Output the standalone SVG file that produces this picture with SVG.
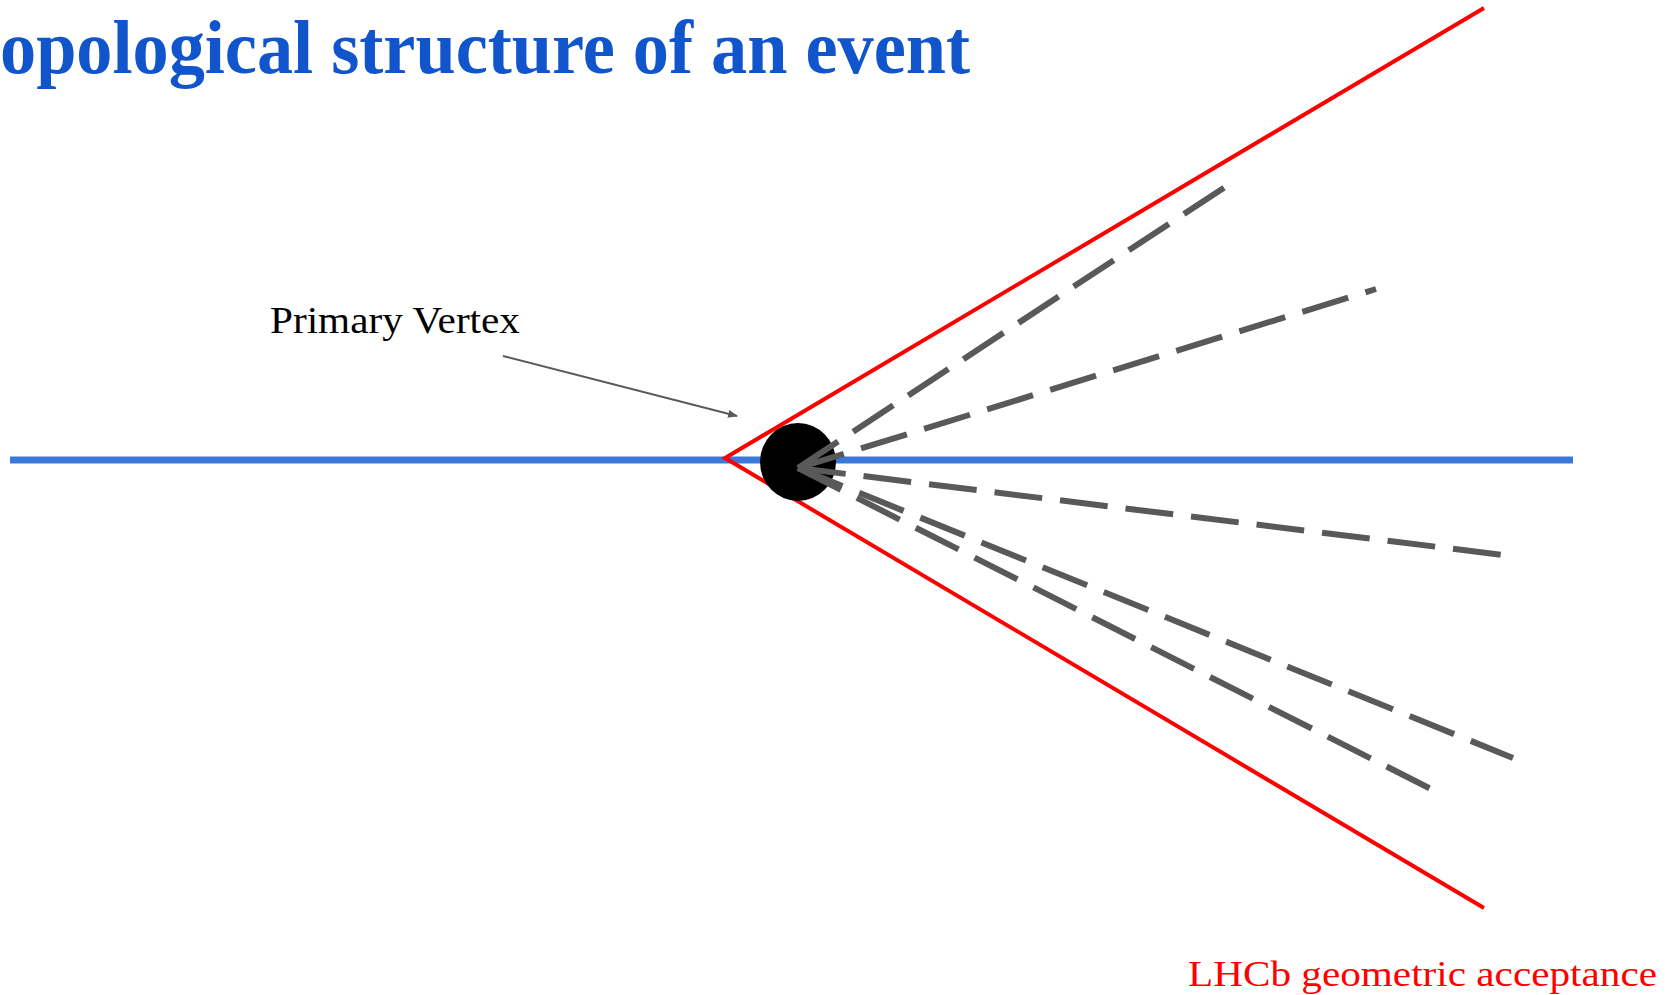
<svg xmlns="http://www.w3.org/2000/svg" width="1671" height="995" viewBox="0 0 1671 995">
<style>
.track{stroke:#595959;stroke-width:6;stroke-dasharray:48 18;fill:none}
.red{stroke:#ff0000;stroke-width:4;fill:none}
.serif{font-family:"Liberation Serif","DejaVu Serif",serif}
</style>
<defs>
<marker id="ah" markerWidth="10" markerHeight="8" refX="9" refY="4" orient="auto" markerUnits="userSpaceOnUse" viewBox="0 0 10 8">
<path d="M0,0 L10,4 L0,8 Z" fill="#595959"/>
</marker>
</defs>
<rect width="1671" height="995" fill="#ffffff"/>
<text id="title" class="serif" x="0" y="73" font-size="76" font-weight="bold" fill="#1155cc" textLength="970" lengthAdjust="spacingAndGlyphs">opological structure of an event</text>
<g id="beam">
<line x1="10" y1="460" x2="1573" y2="460" stroke="#3c78d8" stroke-width="7"/>
</g>
<g id="acceptance">
<polyline class="red" points="1484,8 725,458 1484,908"/>
</g>
<g id="vertex">
<ellipse cx="798" cy="462" rx="38" ry="39" fill="#000000"/>
</g>
<g id="connectors">
<line class="track" x1="798" y1="468" x2="1225" y2="187"/>
<line class="track" x1="798" y1="468" x2="1376" y2="289"/>
<line class="track" x1="798" y1="468" x2="1503" y2="555"/>
<line class="track" x1="798" y1="468" x2="1513" y2="758"/>
<line class="track" x1="798" y1="468" x2="1431" y2="789"/>
<line x1="503" y1="356" x2="737" y2="416" stroke="#595959" stroke-width="2" marker-end="url(#ah)"/>
</g>
<g id="label-pv">
<text class="serif" x="270" y="333" font-size="37" fill="#000000" textLength="250" lengthAdjust="spacingAndGlyphs">Primary Vertex</text>
</g>
<g id="label-lhcb">
<text class="serif" x="1188" y="986" font-size="36" fill="#ff0000" textLength="469" lengthAdjust="spacingAndGlyphs">LHCb geometric acceptance</text>
</g>
</svg>
